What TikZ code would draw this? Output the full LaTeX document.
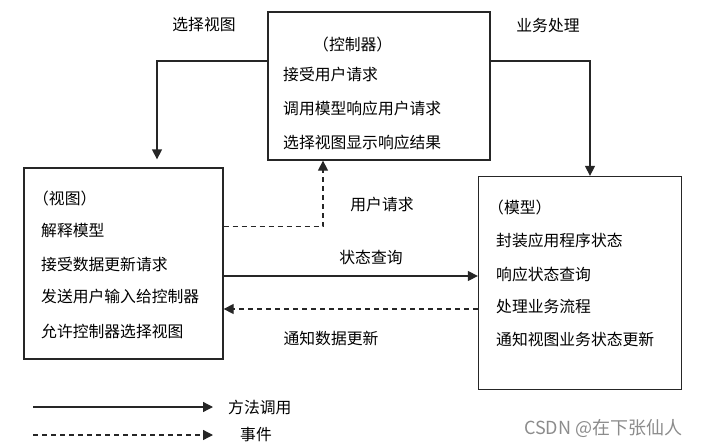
\documentclass[tikz,border=0pt]{standalone}
\usepackage{fontspec}
\setmainfont{Noto Sans CJK SC}
\usetikzlibrary{arrows.meta}
\begin{document}
\begin{tikzpicture}[x=1pt,y=-1pt,
  box/.style={draw=black!85,line width=1.3pt,minimum width=#1,inner sep=0pt},
  txt/.style={anchor=west,inner sep=0pt,font=\fontsize{15.8pt}{17pt}\selectfont},
  lbl/.style={inner sep=0pt,font=\fontsize{15.8pt}{17pt}\selectfont},
  call/.style={draw=black!85,line width=1.3pt,-{Triangle[length=10pt,width=10pt]}},
  evt/.style={call,dash pattern=on 5pt off 4pt}
]
\useasboundingbox (0,0) rectangle (710,447);
% boxes
\node[box=222pt,minimum height=148pt] (ctrl) at (379,86) {};
\node[box=199pt,minimum height=191pt] (view) at (123.5,263.5) {};
\node[box=203pt,minimum height=213pt] (model) at (580,283) {};
% controller text
\node[txt] (c0) at (313,44) {（控制器）};
\node[txt] (c1) at (283,75) {接受用户请求};
\node[txt] (c2) at (283,108) {调用模型响应用户请求};
\node[txt] (c3) at (283,142) {选择视图显示响应结果};
% view text
\node[txt] (v0) at (33,198) {（视图）};
\node[txt] (v1) at (41,231) {解释模型};
\node[txt] (v2) at (41,264) {接受数据更新请求};
\node[txt] (v3) at (41,297) {发送用户输入给控制器};
\node[txt] (v4) at (41,331) {允许控制器选择视图};
% model text
\node[txt] (m0) at (488,207) {（模型）};
\node[txt] (m1) at (496,240) {封装应用程序状态};
\node[txt] (m2) at (496,274) {响应状态查询};
\node[txt] (m3) at (496,306) {处理业务流程};
\node[txt] (m4) at (496,339) {通知视图业务状态更新};
% connector labels
\node[lbl] (lsel) at (204,25) {选择视图};
\node[lbl] (lbiz) at (548,25) {业务处理};
\node[lbl] (lur) at (382,205) {用户请求};
\node[lbl] (lsq) at (371,257) {状态查询};
\node[lbl] (lnt) at (331,338) {通知数据更新};
% bends
\coordinate (sel) at (157,61);
\coordinate (biz) at (590,61);
\coordinate (ur) at (323,226.5);
\coordinate (sq) at (350,276);
\coordinate (nt) at (350,309);
\draw[call,shorten >=8pt] (sel -| ctrl.west) -- (sel) -- (sel |- view.north);
\draw[call] (biz -| ctrl.east) -- (biz) -- (biz |- model.north);
\draw[evt] (ur -| view.east) -- (ur) -- (ur |- ctrl.south);
\draw[call] (sq -| view.east) -- (sq -| model.west);
\draw[evt] (nt -| model.west) -- (nt -| view.east);
% legend
\coordinate (la1) at (33,407);
\coordinate (lb1) at (213,407);
\coordinate (la2) at (33,435);
\coordinate (lb2) at (213,435);
\draw[call] (la1) -- (lb1);
\draw[evt] (la2) -- (lb2);
\node[txt] (leg1) at (228,407) {方法调用};
\node[txt] (leg2) at (240,435) {事件};
% watermark
\node[txt,text=black!45,font=\fontsize{18pt}{20pt}\selectfont] (wm) at (524,428) {CSDN @在下张仙人};
\end{tikzpicture}
\end{document}
